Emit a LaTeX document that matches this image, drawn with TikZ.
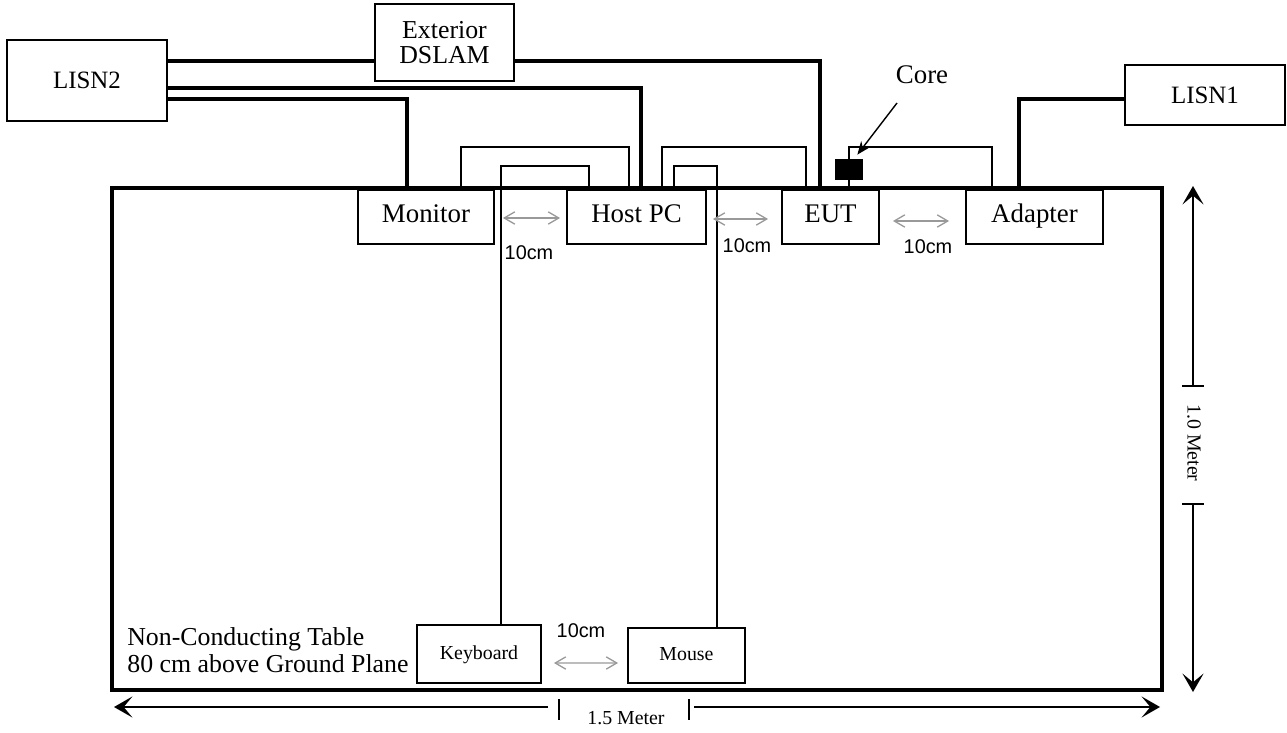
\documentclass[tikz,border=0pt]{standalone}
\usepackage{fontspec}
\setmainfont{Liberation Serif}
\newfontfamily\arialfont{Liberation Sans}
\usetikzlibrary{arrows.meta,calc}

\begin{document}
\begin{tikzpicture}[x=0.02cm, y=-0.02cm,
    box/.style={draw, line width=1.1pt, inner sep=0pt, font=\fontsize{15.3}{15.3}\selectfont},
    oneline/.style={text height=10.4pt, text depth=4.7pt},
    smallbox/.style={box, font=\fontsize{11.3}{11.3}\selectfont, text height=7.7pt, text depth=1.7pt},
    power/.style={line width=2.1pt},
    cable/.style={line width=0.9pt},
    gap/.style={line width=0.75pt, black!40, >={Straight Barb[length=6pt,width=7pt]}, <->},
    gaplbl/.style={font=\arialfont\fontsize{11.3}{11.3}\selectfont, inner sep=0pt},
    dim/.style={line width=0.9pt},
    dimlbl/.style={font=\fontsize{11.3}{11.3}\selectfont, inner sep=0pt}]

    \useasboundingbox (0,0) rectangle (1287,733);

    % Non-conducting table
    \draw [line width=2.3pt] (112,188) rectangle (1162,690);
    \node [anchor=north west, inner sep=0pt, align=left, font=\fontsize{14.7}{15.3}\selectfont] (tbl) at (127,627)
        {Non-Conducting Table\\80 cm above Ground Plane};

    % Equipment off the table
    \node [box, minimum width=3.2cm, minimum height=1.62cm, font=\fontsize{14.2}{14.2}\selectfont] (lisn2) at (87,80.5) {LISN2};
    \node [box, minimum width=2.78cm, minimum height=1.54cm, align=center, font=\fontsize{14.7}{14.7}\selectfont] (dslam) at (444.5,42.5) {Exterior\\DSLAM};
    \node [box, minimum width=3.2cm, minimum height=1.2cm, font=\fontsize{14.2}{14.2}\selectfont] (lisn1) at (1205,95) {LISN1};

    % Equipment on the table
    \node [box, oneline, minimum width=2.72cm, minimum height=1.08cm] (mon) at (426,217) {Monitor};
    \node [box, oneline, minimum width=2.78cm, minimum height=1.08cm] (host) at (636.5,217) {Host PC};
    \node [box, oneline, minimum width=1.94cm, minimum height=1.08cm] (eut) at (830.5,217) {EUT};
    \node [box, oneline, minimum width=2.74cm, minimum height=1.08cm] (adp) at (1034.5,217) {Adapter};
    \node [smallbox, minimum width=2.48cm, minimum height=1.16cm] (kbd) at (479,654) {Keyboard};
    \node [smallbox, minimum width=2.34cm, minimum height=1.1cm] (mouse) at (686.5,655.5) {Mouse};

    % Power and line cables
    \draw [power] (lisn2.east |- 0,61) -- (dslam.west |- 0,61);
    \draw [power] (lisn2.east |- 0,88) -| (host.north -| 641,0);
    \draw [power] (lisn2.east |- 0,99) -| (mon.north -| 407,0);
    \draw [power] (dslam.east |- 0,61) -| (eut.north -| 820,0);
    \draw [power] (lisn1.west |- 0,99) -| (adp.north -| 1019,0);

    % Signal cables
    \draw [cable] (mon.north -| 461,0) -- ++(0,-42) -| (host.north -| 629,0);
    \draw [cable] (kbd.north -| 501,0) -- ++(0,-458) -| (host.north -| 589,0);
    \draw [cable] (host.north -| 662,0) -- ++(0,-42) -| (eut.north -| 806,0);
    \draw [cable] (host.north -| 674,0) -- ++(0,-23) -| (mouse.north -| 717,0);
    \draw [cable] (eut.north -| 849,0) -- ++(0,-42) -| (adp.north -| 992,0);

    % Ferrite core
    \node [fill=black, inner sep=0pt, minimum width=0.56cm, minimum height=0.42cm] (core) at (849,169.5) {};
    \node [inner sep=0pt, font=\fontsize{15.3}{15.3}\selectfont] (corelbl) at (922,75) {Core};
    \coordinate (coretail) at (897,103);
    \draw [line width=0.8pt, -{Stealth[length=7.5pt,width=6pt]}] (coretail) -- ($(core.north east)+(-6,-4)$);

    % 10cm spacing
    \draw [gap] ($(mon.east)+(8,1)$) -- ($(host.west)+(-6,1)$);
    \draw [gap] ($(host.east)+(6,2)$) -- ($(eut.west)+(-13,2)$);
    \draw [gap] ($(eut.east)+(13,4)$) -- ($(adp.west)+(-16,4)$);
    \draw [gap] ($(kbd.east)+(12,9)$) -- ($(mouse.west)+(-9,7.5)$);
    \node [gaplbl] (g1) at (529,253) {10cm};
    \node [gaplbl] (g2) at (747,246) {10cm};
    \node [gaplbl] (g3) at (928,247) {10cm};
    \node [gaplbl] (g4) at (581,631) {10cm};

    % Table dimensions
    \coordinate (vtop) at (1193,186);
    \coordinate (vbot) at (1193,692);
    \coordinate (vtick1) at (1193,387);
    \coordinate (vtick2) at (1193,503);
    \node [dimlbl, rotate=-90] (vlbl) at (1194,443) {1.0 Meter};
    \draw [dim, {Bar[width=12pt]}-{Stealth[length=10.5pt,width=12pt,inset=5pt]}] (vtick1) -- (vtop);
    \draw [dim, {Bar[width=12pt]}-{Stealth[length=10.5pt,width=12pt,inset=5pt]}] (vtick2) -- (vbot);

    \coordinate (hleft) at (114,707);
    \coordinate (hright) at (1160,707);
    \node [dimlbl] (hlbl) at (626,718) {1.5 Meter};
    \draw [dim, -{Stealth[length=10.5pt,width=12pt,inset=5pt]}] (548,707) -- (hleft);
    \draw [dim, -{Stealth[length=10.5pt,width=12pt,inset=5pt]}] (694,707) -- (hright);
    \draw [dim] (559,699) -- (559,720);
    \draw [dim] (689,699) -- (689,720);
\end{tikzpicture}
\end{document}
